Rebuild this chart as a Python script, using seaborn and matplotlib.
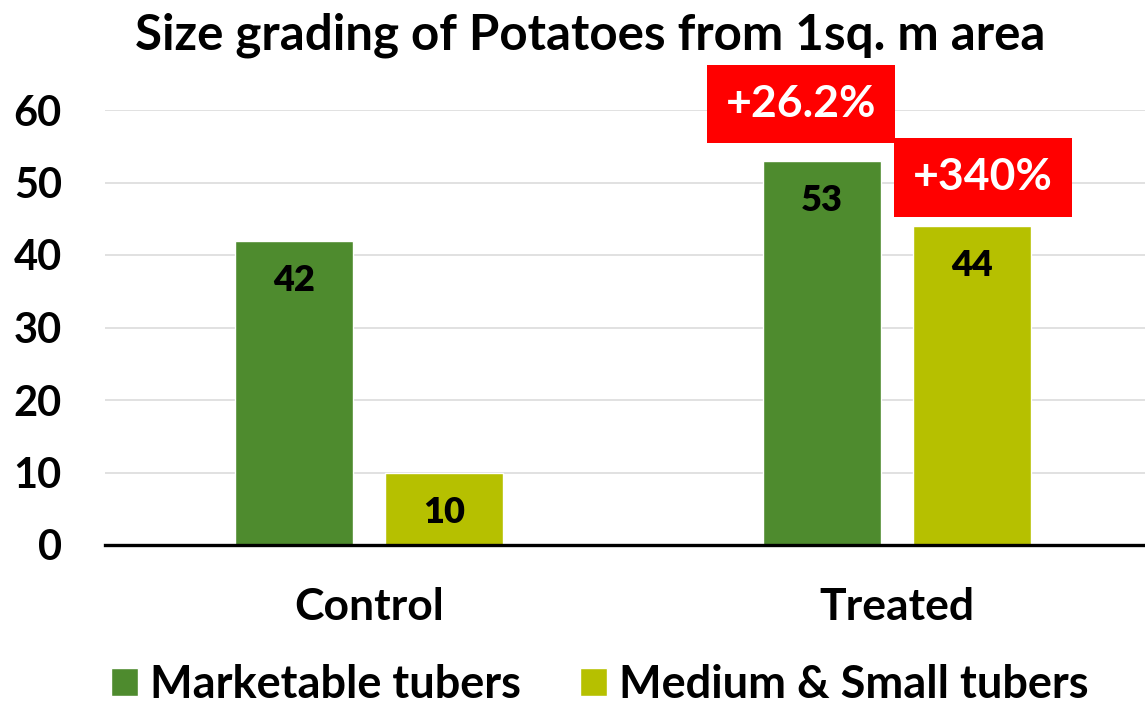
import seaborn as sns
import matplotlib.pyplot as plt
import pandas as pd

# Dados
grupos = ["Control", "Treated"]
tipos = ["Marketable tubers", "Medium & Small tubers"]
comercial = [42, 53]
medio_pequeno = [10, 44]
aumentos = ["+26.2%", "+340%"]
cores = ["#4E8B2E", "#B6C000"]

df = pd.DataFrame({
    "Grupo": grupos * 2,
    "Tipo": [tipos[0]] * 2 + [tipos[1]] * 2,
    "Valor": comercial + medio_pequeno,
})

sns.set_style("white")
plt.rcParams["font.family"] = ["Lato", "DejaVu Sans"]
plt.rcParams["font.weight"] = "bold"
plt.rcParams["text.color"] = "black"
plt.rcParams["xtick.color"] = "black"
plt.rcParams["ytick.color"] = "black"

fig = plt.figure(figsize=(11.45, 7.05), dpi=100)
ax = fig.add_axes([105 / 1145, 160 / 705, 1040 / 1145, 435 / 705])

sns.barplot(data=df, x="Grupo", y="Valor", hue="Tipo", palette=cores,
            width=0.568, gap=0.213, saturation=1, ax=ax)

ax.set_xlim(-0.5, 1.47)
ax.set_ylim(0, 60)
ax.set_yticks(range(0, 61, 10))
ax.yaxis.grid(True, color="#D9D9D9", linewidth=1.1)
ax.set_axisbelow(True)
for lado in ["top", "right", "left"]:
    ax.spines[lado].set_visible(False)
ax.spines["bottom"].set_color("black")
ax.spines["bottom"].set_linewidth(2.4)
ax.tick_params(axis="y", length=0, labelsize=30, pad=31)
ax.tick_params(axis="x", length=0, labelsize=32, pad=30)
ax.set_xlabel("")
ax.set_ylabel("")

# rótulos dentro das barras
for cont in ax.containers:
    for barra in cont:
        h = barra.get_height()
        ax.text(barra.get_x() + barra.get_width() / 2, h - 5.5, f"{h:.0f}",
                ha="center", va="center", fontsize=26, fontweight="heavy",
                color="black")

# caixas vermelhas de aumento
desloc = [(-15, 41), (8, 35)]
for cont, txt, (dx, dy) in zip(ax.containers, aumentos, desloc):
    barra = cont[1]
    ax.annotate(txt, xy=(barra.get_x() + barra.get_width() / 2, barra.get_height()),
                xytext=(dx, dy), textcoords="offset points", ha="center", va="center",
                fontsize=32, fontweight="bold", color="white", annotation_clip=False,
                bbox=dict(boxstyle="square,pad=0.43", fc="#FF0000", ec="none"))

# legenda
leg = ax.get_legend()
handles = leg.legend_handles
labels = [t.get_text() for t in leg.get_texts()]
leg.remove()
fig.legend(handles, labels, loc="center", bbox_to_anchor=(600 / 1145, 1 - 685 / 705),
           ncol=2, frameon=False, fontsize=32.5, handlelength=0.6, handleheight=0.6,
           handletextpad=0.27, columnspacing=1.3)

fig.text(590 / 1145, 1 - 50 / 705, "Size grading of Potatoes from 1sq. m area",
         ha="center", va="baseline", fontsize=35.5, fontweight="bold")

fig.savefig("out.png", dpi=100)
